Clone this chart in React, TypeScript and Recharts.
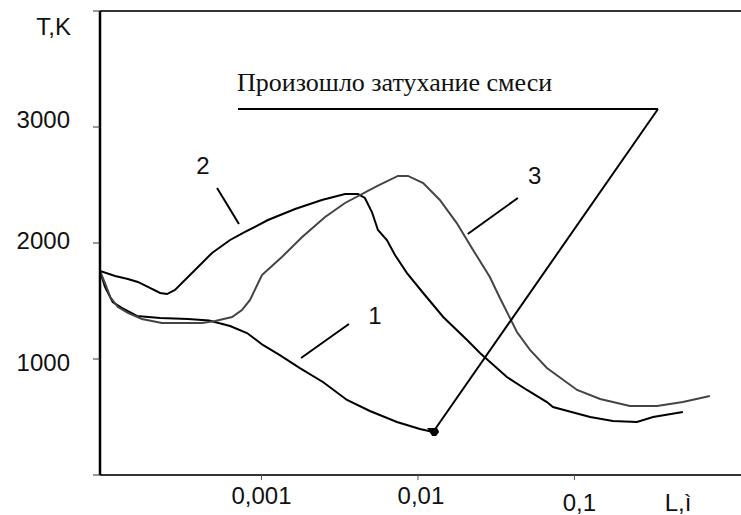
import { LineChart, Line, XAxis, YAxis, ReferenceLine, ReferenceDot } from 'recharts';

// temperature T (K) against distance L (m), three regimes
const curve1 = [
  { l: 9.29e-5, t: 1760 }, { l: 1.0e-4, t: 1621 }, { l: 1.12e-4, t: 1491 }, { l: 1.28e-4, t: 1440 },
  { l: 1.6e-4, t: 1371 }, { l: 2.25e-4, t: 1353 }, { l: 3.39e-4, t: 1345 }, { l: 4.62e-4, t: 1332 },
  { l: 6.3e-4, t: 1284 }, { l: 8.08e-4, t: 1224 }, { l: 1.02e-3, t: 1121 }, { l: 1.31e-3, t: 1034 },
  { l: 1.76e-3, t: 922 }, { l: 2.47e-3, t: 802 }, { l: 3.52e-3, t: 647 }, { l: 4.93e-3, t: 552 },
  { l: 7.34e-3, t: 457 }, { l: 1.03e-2, t: 397 }, { l: 1.25e-2, t: 371 },
];

const curve2 = [
  { l: 9.29e-5, t: 1760 }, { l: 1.16e-4, t: 1716 }, { l: 1.4e-4, t: 1690 }, { l: 1.62e-4, t: 1664 },
  { l: 1.88e-4, t: 1621 }, { l: 2.25e-4, t: 1569 }, { l: 2.49e-4, t: 1560 }, { l: 2.8e-4, t: 1595 },
  { l: 3.76e-4, t: 1767 }, { l: 4.83e-4, t: 1914 }, { l: 6.3e-4, t: 2026 }, { l: 7.85e-4, t: 2095 },
  { l: 1.1e-3, t: 2198 }, { l: 1.64e-3, t: 2293 }, { l: 2.43e-3, t: 2371 }, { l: 3.42e-3, t: 2422 },
  { l: 4.14e-3, t: 2422 }, { l: 4.58e-3, t: 2388 }, { l: 5.08e-3, t: 2267 }, { l: 5.55e-3, t: 2112 },
  { l: 6.33e-3, t: 2026 }, { l: 7.13e-3, t: 1897 }, { l: 8.51e-3, t: 1741 }, { l: 1.08e-2, t: 1569 },
  { l: 1.45e-2, t: 1362 }, { l: 2.06e-2, t: 1164 }, { l: 2.49e-2, t: 1052 }, { l: 3.7e-2, t: 845 },
  { l: 4.97e-2, t: 733 }, { l: 6.67e-2, t: 629 }, { l: 7.29e-2, t: 586 }, { l: 0.126, t: 500 },
  { l: 0.176, t: 466 }, { l: 0.251, t: 457 }, { l: 0.318, t: 500 }, { l: 0.493, t: 543 },
];

const curve3 = [
  { l: 9.29e-5, t: 1760 }, { l: 1.0e-4, t: 1655 }, { l: 1.08e-4, t: 1534 }, { l: 1.21e-4, t: 1448 },
  { l: 1.4e-4, t: 1397 }, { l: 1.72e-4, t: 1345 }, { l: 2.31e-4, t: 1310 }, { l: 3.1e-4, t: 1310 },
  { l: 4.17e-4, t: 1310 }, { l: 5.05e-4, t: 1328 }, { l: 6.49e-4, t: 1362 }, { l: 7.5e-4, t: 1422 },
  { l: 8.45e-4, t: 1509 }, { l: 1.007e-3, t: 1724 }, { l: 1.35e-3, t: 1879 }, { l: 1.82e-3, t: 2052 },
  { l: 2.55e-3, t: 2224 }, { l: 3.42e-3, t: 2345 }, { l: 5.47e-3, t: 2491 }, { l: 7.45e-3, t: 2578 },
  { l: 8.63e-3, t: 2578 }, { l: 1.08e-2, t: 2517 }, { l: 1.38e-2, t: 2371 }, { l: 1.77e-2, t: 2172 },
  { l: 2.25e-2, t: 1940 }, { l: 2.88e-2, t: 1707 }, { l: 3.34e-2, t: 1526 }, { l: 4.29e-2, t: 1233 },
  { l: 5.2e-2, t: 1078 }, { l: 6.67e-2, t: 922 }, { l: 0.104, t: 733 }, { l: 0.146, t: 655 },
  { l: 0.226, t: 595 }, { l: 0.337, t: 595 }, { l: 0.493, t: 629 }, { l: 0.734, t: 681 },
];

const xTicks = [0.001, 0.01, 0.1];
const xTickText = ['0,001', '0,01', '0,1'];
const yTicks = [0, 1000, 2000, 3000, 4000];
const yTickText = ['', '1000', '2000', '3000', ''];

// curve numbers and their leader lines: [label, labelL, labelT, fromL, fromT, toL, toT]
const curveLabels: [string, number, number, number, number, number, number][] = [
  ['1', 5.31e-3, 1379, 3.62e-3, 1302, 1.79e-3, 1009],
  ['2', 4.23e-4, 2672, 5.2e-4, 2474, 7.18e-4, 2164],
  ['3', 5.58e-2, 2586, 4.35e-2, 2388, 2.08e-2, 2078],
];

const noteText = 'Произошло затухание смеси';
const noteL = 6.98e-4;
const noteT = 3310;
const noteLineStart = 7.08e-4;
const noteLineCorner = 0.342;
const noteLineT = 3155;

const SANS = '"Liberation Sans", Arial, sans-serif';
const SERIF = '"Liberation Serif", "Times New Roman", serif';

// small per-label nudges of the tick text
const xShift = [[0, 30], [3, 30], [5, 37]];
const yShift: Record<number, number> = { 1000: 12, 2000: 6, 3000: 1 };

const XTick = (props: any) => {
  const { x, y, payload } = props;
  const i = xTicks.indexOf(payload.value);
  if (i < 0) return null;
  const [dx, dy] = xShift[i];
  return (
    <text x={x + dx} y={y - 8 + dy} textAnchor="middle" fontFamily={SANS} fontSize={24} fill="#111">
      {xTickText[i]}
    </text>
  );
};

const YTick = (props: any) => {
  const { x, y, payload } = props;
  const i = yTicks.indexOf(payload.value);
  if (i < 0 || !yTickText[i]) return null;
  return (
    <text x={x} y={y + (yShift[payload.value] ?? 0)} textAnchor="end" fontFamily={SANS} fontSize={24} fill="#111">
      {yTickText[i]}
    </text>
  );
};

export default function App() {
  const last = curve1[curve1.length - 1];
  return (
    <div style={{ position: 'absolute', left: 0, top: 0, background: '#fff' }}>
      <LineChart width={741} height={515} margin={{ top: 11, right: 0, left: 0, bottom: 0 }}>
        <XAxis
          dataKey="l"
          type="number"
          scale="log"
          domain={[9.29e-5, 1.16]}
          allowDataOverflow
          ticks={xTicks}
          tick={<XTick />}
          tickSize={5}
          tickLine={{ stroke: '#555' }}
          axisLine={{ stroke: '#333', strokeWidth: 2 }}
          height={40}
          label={{
            content: ({ viewBox }: any) => (
              <text x={viewBox.x + viewBox.width - 63} y={viewBox.y + 36} textAnchor="middle" fontFamily={SANS} fontSize={24} fill="#111">
                L,ì
              </text>
            ),
          }}
        />
        <YAxis
          type="number"
          domain={[0, 4000]}
          ticks={yTicks}
          tick={<YTick />}
          tickSize={7}
          tickMargin={23}
          tickLine={{ stroke: '#333' }}
          axisLine={{ stroke: '#000', strokeWidth: 2.5 }}
          width={100}
          label={{
            content: ({ viewBox }: any) => (
              <text x={viewBox.x + viewBox.width - 29} y={viewBox.y + 24} textAnchor="end" fontFamily={SANS} fontSize={24} fill="#111">
                T,K
              </text>
            ),
          }}
        />
        <ReferenceLine y={4000} stroke="#333" strokeWidth={2} />

        <Line data={curve1} dataKey="t" type="linear" stroke="#000" strokeWidth={2} dot={false} isAnimationActive={false} />
        <Line data={curve2} dataKey="t" type="linear" stroke="#000" strokeWidth={2} dot={false} isAnimationActive={false} />
        <Line data={curve3} dataKey="t" type="linear" stroke="#444" strokeWidth={2} dot={false} isAnimationActive={false} />

        {curveLabels.map(([text, lx, ly, x1, y1, x2, y2]) => (
          <ReferenceLine
            key={'seg' + text}
            segment={[{ x: x1, y: y1 }, { x: x2, y: y2 }]}
            stroke="#000"
            strokeWidth={2}
            ifOverflow="visible"
          />
        ))}
        {curveLabels.map(([text, lx, ly]) => (
          <ReferenceDot
            key={'lbl' + text}
            x={lx}
            y={ly}
            r={0}
            ifOverflow="visible"
            shape={(p: any) => (
              <text x={p.cx} y={p.cy} textAnchor="middle" dominantBaseline="central" fontFamily={SANS} fontSize={24} fill="#111">
                {text}
              </text>
            )}
          />
        ))}

        {/* extinction note pointing at the end of curve 1 */}
        <ReferenceLine
          segment={[{ x: noteLineStart, y: noteLineT }, { x: noteLineCorner, y: noteLineT }]}
          stroke="#000"
          strokeWidth={2}
          ifOverflow="visible"
        />
        <ReferenceLine
          segment={[{ x: noteLineCorner, y: noteLineT }, { x: last.l, y: last.t }]}
          stroke="#000"
          strokeWidth={2}
          ifOverflow="visible"
        />
        <ReferenceDot
          x={last.l}
          y={last.t}
          r={0}
          ifOverflow="visible"
          shape={(p: any) => (
            <polygon
              points={`${p.cx - 6},${p.cy - 4} ${p.cx + 4},${p.cy - 4} ${p.cx + 6},${p.cy} ${p.cx + 3},${p.cy + 4} ${p.cx - 1},${p.cy + 4}`}
              fill="#000"
            />
          )}
        />
        <ReferenceDot
          x={noteL}
          y={noteT}
          r={0}
          ifOverflow="visible"
          shape={(p: any) => (
            <text x={p.cx} y={p.cy} textAnchor="start" fontFamily={SERIF} fontSize={26} fill="#111">
              {noteText}
            </text>
          )}
        />
      </LineChart>
    </div>
  );
}
